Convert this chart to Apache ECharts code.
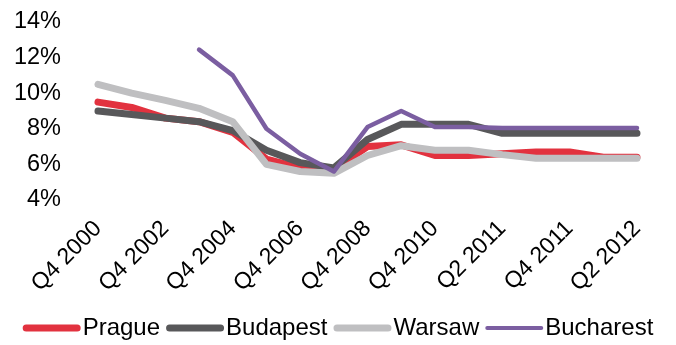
<!DOCTYPE html>
<html>
<head>
<meta charset="utf-8">
<script src="https://cdn.jsdelivr.net/npm/echarts@6/dist/echarts.min.js"></script>
<style>
  html, body { margin: 0; padding: 0; background: #fff; }
  #chart { width: 676px; height: 345px; }
</style>
</head>
<body>
<div id="chart"></div>
<script>
// quarters (labels shown every other one)
var quarters = ['Q4 2000', 'Q4 2001', 'Q4 2002', 'Q4 2003', 'Q4 2004', 'Q4 2005', 'Q4 2006', 'Q4 2007',
  'Q4 2008', 'Q4 2009', 'Q4 2010', 'Q1 2011', 'Q2 2011', 'Q3 2011', 'Q4 2011', 'Q1 2012', 'Q2 2012']

// yields in %
var prague = [9.5, 9.2, 8.6, 8.4, 7.8, 6.3, 5.8, 5.7, 7.0, 7.1, 6.5, 6.5, 6.6, 6.7, 6.7, 6.4, 6.4]
var budapest = [9.0, 8.8, 8.6, 8.4, 7.9, 6.8, 6.1, 5.8, 7.4, 8.25, 8.25, 8.25, 7.75, 7.75, 7.75, 7.75, 7.75]
var warsaw = [10.5, 10.0, 9.6, 9.15, 8.4, 6.0, 5.6, 5.5, 6.5, 7.05, 6.8, 6.8, 6.55, 6.35, 6.35, 6.35, 6.35]
var bucharest = [null, null, null, 12.45, 11.0, 8.0, 6.6, 5.6, 8.1, 9.0, 8.1, 8.1, 8.05, 8.05, 8.05, 8.05, 8.05]

var FONT = "'Liberation Sans', Arial, sans-serif"
var colors = {
  Prague: '#e2323f',
  Budapest: '#58585a',
  Warsaw: '#bfbfc1',
  Bucharest: '#7b5ea1'
}

function lineSeries(name, data, width) {
  return {
    name: name,
    type: 'line',
    data: data,
    symbol: 'none',
    smooth: false,
    lineStyle: { color: colors[name], width: width, cap: 'round', join: 'round' },
    itemStyle: { color: colors[name] },
    emphasis: { disabled: true }
  }
}

// legend swatches: thick bars, Bucharest thinner
var thickBar = 'path://M3.5,0 L54.5,0 A3.5,3.5 0 0 1 54.5,7 L3.5,7 A3.5,3.5 0 0 1 3.5,0 Z'
var thinBar = 'path://M2,0 L56,0 A2,2 0 0 1 56,4 L2,4 A2,2 0 0 1 2,0 Z'

var myChart = echarts.init(document.getElementById('chart'))
var option = {
  animation: false,
  backgroundColor: '#fff',
  grid: {
    left: 98,
    right: 39,
    top: 22,
    bottom: 145
  },
  legend: {
    bottom: 0,
    left: 'center',
    itemWidth: 58,
    itemHeight: 7,
    itemGap: 6,
    textStyle: { fontFamily: FONT, fontSize: 24, color: '#000', padding: [0, 0, 0, -3] },
    data: [
      { name: 'Prague', icon: thickBar, itemStyle: { color: colors.Prague } },
      { name: 'Budapest', icon: thickBar, itemStyle: { color: colors.Budapest } },
      { name: 'Warsaw', icon: thickBar, itemStyle: { color: colors.Warsaw } },
      { name: 'Bucharest', icon: thinBar, itemStyle: { color: colors.Bucharest } }
    ]
  },
  xAxis: {
    type: 'category',
    boundaryGap: false,
    data: quarters,
    axisLine: { show: false },
    axisTick: { show: false },
    axisLabel: {
      interval: 1,
      rotate: 45,
      margin: 25,
      fontFamily: FONT,
      fontSize: 23,
      color: '#000'
    }
  },
  yAxis: {
    type: 'value',
    min: 4,
    max: 14,
    interval: 2,
    axisLine: { show: false },
    axisTick: { show: false },
    splitLine: { show: false },
    axisLabel: {
      formatter: '{value}%',
      margin: 37,
      fontFamily: FONT,
      fontSize: 23.5,
      color: '#000'
    }
  },
  series: [
    lineSeries('Prague', prague, 7),
    lineSeries('Budapest', budapest, 7),
    lineSeries('Warsaw', warsaw, 7),
    lineSeries('Bucharest', bucharest, 4.5)
  ]
}
myChart.setOption(option)
</script>
</body>
</html>
